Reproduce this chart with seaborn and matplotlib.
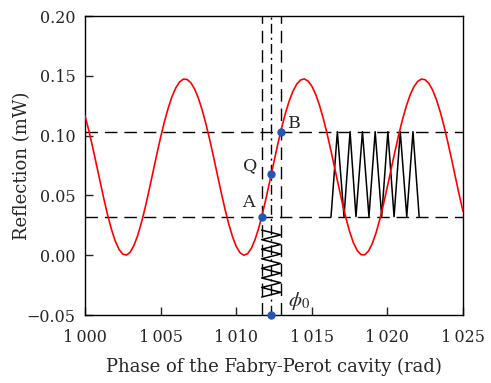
import numpy as np
import seaborn as sns
import matplotlib.pyplot as plt

sns.set_style('ticks')
plt.rcParams['font.family'] = ['DejaVu Serif']
plt.rcParams['mathtext.fontset'] = 'stix'

phase = np.arange(1000, 1025.001, 0.25)
refl = [0.1167, 0.1044, 0.0907, 0.0762, 0.0615, 0.0470, 0.0335, 0.0216, 0.0119, 0.0049,
        0.0009, 0.0001, 0.0027, 0.0085, 0.0171, 0.0281, 0.0409, 0.0550, 0.0697, 0.0844,
        0.0985, 0.1115, 0.1229, 0.1325, 0.1398, 0.1448, 0.1472, 0.1470, 0.1442, 0.1389,
        0.1312, 0.1214, 0.1097, 0.0965, 0.0823, 0.0676, 0.0529, 0.0390, 0.0264, 0.0157,
        0.0074, 0.0021, 0.0000, 0.0012, 0.0057, 0.0132, 0.0232, 0.0354, 0.0491, 0.0636,
        0.0783, 0.0928, 0.1063, 0.1184, 0.1288, 0.1370, 0.1430, 0.1465, 0.1474, 0.1457,
        0.1414, 0.1347, 0.1257, 0.1148, 0.1022, 0.0883, 0.0737, 0.0590, 0.0447, 0.0314,
        0.0198, 0.0105, 0.0040, 0.0005, 0.0003, 0.0035, 0.0097, 0.0188, 0.0301, 0.0432,
        0.0575, 0.0722, 0.0868, 0.1008, 0.1135, 0.1247, 0.1339, 0.1408, 0.1453, 0.1473,
        0.1467, 0.1435, 0.1378, 0.1297, 0.1196, 0.1076, 0.0942, 0.0799, 0.0651, 0.0505,
        0.0367]

# working points A, Q, B and the bias phi0
pt_x = [1011.68, 1012.32, 1012.94, 1012.32]
pt_y = [0.0322, 0.068, 0.1033, -0.05]
level_lo, level_hi = 0.0322, 0.1033
phase_a, phase_q, phase_b = 1011.68, 1012.32, 1012.94

# modulation input (vertical) and reflected output (horizontal)
mod_x = [1011.68, 1012.94] * 7 + [1011.68]
mod_y = [0.021, 0.017, 0.013, 0.009, 0.005, 0.001, -0.003, -0.007,
         -0.011, -0.015, -0.019, -0.023, -0.027, -0.031, -0.035]
out_x = [1016.27, 1016.69, 1017.13, 1017.53, 1017.92, 1018.35, 1018.78,
         1019.19, 1019.62, 1020.03, 1020.44, 1020.85, 1021.28, 1021.69, 1022.10]
out_y = [0.0322, 0.1033] * 7 + [0.0322]

xticks = [1000, 1005, 1010, 1015, 1020, 1025]
xlabels = ['1\u2009000', '1\u2009005', '1\u2009010', '1\u2009015', '1\u2009020', '1\u2009025']
yticks = [-0.05, 0.00, 0.05, 0.10, 0.15, 0.20]
ylabels = ['\u22120.05', '0.00', '0.05', '0.10', '0.15', '0.20']

fig = plt.figure(figsize=(4.91, 3.83), dpi=100)
ax = fig.add_axes([0.1731, 0.1775, 0.7699, 0.7807])

dash = (9, 5)
ax.axhline(level_lo, color='k', lw=1.0, dashes=dash, zorder=1)
ax.axhline(level_hi, color='k', lw=1.0, dashes=dash, zorder=1)
ax.axvline(phase_a, color='k', lw=1.0, dashes=dash, zorder=1)
ax.axvline(phase_b, color='k', lw=1.0, dashes=dash, zorder=1)
ax.axvline(phase_q, color='k', lw=1.0, dashes=(7, 3, 1.5, 3), zorder=1)

sns.lineplot(x=phase, y=refl, color='red', lw=1.2, ax=ax, zorder=3)
sns.lineplot(x=mod_x, y=mod_y, sort=False, estimator=None, color='k', lw=1.1, ax=ax, zorder=2)
sns.lineplot(x=out_x, y=out_y, sort=False, estimator=None, color='k', lw=1.1, ax=ax, zorder=2)
sns.scatterplot(x=pt_x, y=pt_y, color='#2157b5', s=36, linewidth=0, ax=ax, zorder=5, clip_on=False)

ax.text(1010.8, 0.0439, 'A', fontsize=12.5, ha='center', va='center')
ax.text(1010.91, 0.0748, 'Q', fontsize=12.5, ha='center', va='center')
ax.text(1013.82, 0.1103, 'B', fontsize=12.5, ha='center', va='center')
ax.text(1014.15, -0.0385, r'$\phi_0$', fontsize=15, ha='center', va='center')

ax.set_xlim(1000, 1025)
ax.set_ylim(-0.05, 0.20)
ax.set_xticks(xticks)
ax.set_xticklabels(xlabels)
ax.set_yticks(yticks)
ax.set_yticklabels(ylabels)
ax.tick_params(direction='in', length=6, width=1, labelsize=11.5, top=False, right=False)
ax.tick_params(axis='x', pad=10)
ax.tick_params(axis='y', pad=7)
for sp in ax.spines.values():
    sp.set_linewidth(1.0)
    sp.set_color('k')

ax.set_xlabel('Phase of the Fabry-Perot cavity (rad)', fontsize=13)
ax.set_ylabel('Reflection (mW)', fontsize=13)
ax.xaxis.label.set_va('center')
ax.yaxis.label.set_va('center')
ax.xaxis.set_label_coords(0.5, -0.173)
ax.yaxis.set_label_coords(-0.1675, 0.5)

fig.savefig('out.png', dpi=100)
